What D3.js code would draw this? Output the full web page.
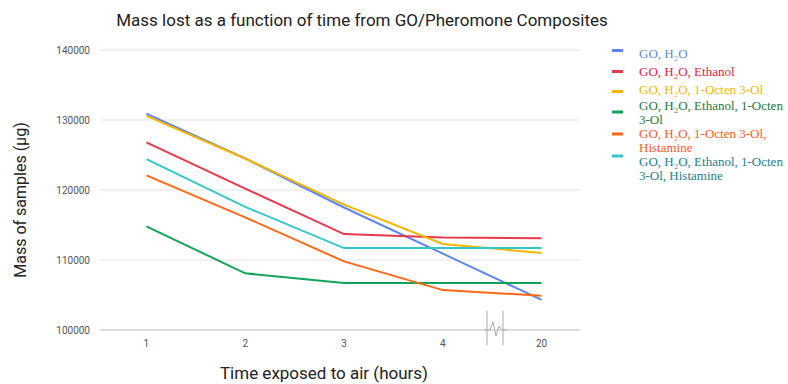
<!DOCTYPE html>
<html><head><meta charset="utf-8">
<script src="https://cdn.jsdelivr.net/npm/d3@7"></script>
<style>body{margin:0;background:#fff;}svg{display:block;}</style>
</head><body>
<svg id="c" width="788" height="384"></svg>
<script>
const categories = ["1", "2", "3", "4", "20"];
const yTicks = [100000, 110000, 120000, 130000, 140000];
const seriesNames = [
  ["GO, H\u2082O"],
  ["GO, H\u2082O, Ethanol"],
  ["GO, H\u2082O, 1-Octen 3-Ol"],
  ["GO, H\u2082O, Ethanol, 1-Octen", "3-Ol"],
  ["GO, H\u2082O, 1-Octen 3-Ol,", "Histamine"],
  ["GO, H\u2082O, Ethanol, 1-Octen", "3-Ol, Histamine"]
];
const goH2O = [130900, 124500, 117500, 110900, 104300];
const goH2OEthanol = [126800, 120200, 113700, 113200, 113100];
const goH2OOcten = [130600, 124500, 117900, 112300, 111000];
const goH2OEthanolOcten = [114800, 108100, 106700, 106700, 106700];
const goH2OOctenHist = [122100, 116100, 109800, 105700, 104900];
const goH2OEthanolOctenHist = [124400, 117600, 111700, 111700, 111700];
const seriesValues = [goH2O, goH2OEthanol, goH2OOcten, goH2OEthanolOcten, goH2OOctenHist, goH2OEthanolOctenHist];
const lineColors = ["#5a86ee", "#e8394c", "#f4b400", "#14a35a", "#ff6816", "#35c6cb"];
const textColors = ["#6487dc", "#e8203d", "#f2b600", "#1e7a3c", "#ff5a24", "#23808a"];

const svg = d3.select("#c");
const x = d3.scalePoint().domain(categories).range([97, 591]).padding(0.5);
const y = d3.scaleLinear().domain([100000, 140000]).range([330, 50]);

// gridlines
svg.append("g").selectAll("line").data(yTicks).join("line")
  .attr("x1", 100).attr("x2", 580)
  .attr("y1", d => y(d)).attr("y2", d => y(d))
  .attr("stroke", d => d === 100000 ? "#bdbdbd" : "#e3e3e3").attr("stroke-width", 1);

// y tick labels
svg.append("g").selectAll("text").data(yTicks).join("text")
  .attr("x", 90).attr("y", d => y(d)).attr("dy", "0.35em")
  .attr("text-anchor", "end").attr("font-family", "Roboto, sans-serif")
  .attr("font-size", 10).attr("fill", "#555").text(d => d);

// x tick labels
svg.append("g").selectAll("text").data(categories).join("text")
  .attr("x", d => x(d)).attr("y", 347)
  .attr("text-anchor", "middle").attr("font-family", "Roboto, sans-serif")
  .attr("font-size", 10).attr("fill", "#555").text(d => d);

// axis break symbol
const br = svg.append("g").attr("stroke", "#aaa").attr("fill", "none").attr("stroke-width", 1);
br.append("line").attr("x1", 487).attr("x2", 487).attr("y1", 311).attr("y2", 345);
br.append("line").attr("x1", 503).attr("x2", 503).attr("y1", 311).attr("y2", 345);
br.append("path").attr("d", "M484,330 L490,330 L493,322 L496,336 L499,326 L502,330 L507,330");

// lines
const line = d3.line().x((d, i) => x(categories[i])).y(d => y(d));
svg.append("g").selectAll("path").data(seriesValues).join("path")
  .attr("d", d => line(d)).attr("fill", "none")
  .attr("stroke", (d, i) => lineColors[i]).attr("stroke-width", 2);

// title
svg.append("text").attr("x", 362).attr("y", 26).attr("text-anchor", "middle")
  .attr("font-family", "Roboto, sans-serif").attr("font-size", 17).attr("fill", "#222")
  .text("Mass lost as a function of time from GO/Pheromone Composites");

// axis titles
svg.append("text").attr("x", 324).attr("y", 379).attr("text-anchor", "middle")
  .attr("font-family", "Roboto, sans-serif").attr("font-size", 17).attr("fill", "#222")
  .text("Time exposed to air (hours)");
svg.append("text").attr("transform", "translate(26,200) rotate(-90)").attr("text-anchor", "middle")
  .attr("font-family", "Roboto, sans-serif").attr("font-size", 16).attr("fill", "#222")
  .text("Mass of samples (\u00b5g)");

// legend
const markerY = [50.5, 71.5, 91.5, 112, 134, 156];
const textY = [[53], [71], [89], [105, 119], [133, 147], [161, 175]];
const lg = svg.append("g");
seriesNames.forEach((lines, i) => {
  lg.append("rect").attr("x", 612).attr("y", markerY[i] - 1.5).attr("width", 11).attr("height", 3)
    .attr("fill", lineColors[i]);
  lines.forEach((t, j) => {
    lg.append("text").attr("x", 639).attr("y", textY[i][j]).attr("dy", "0.35em")
      .attr("font-family", "'Liberation Serif', 'Times New Roman', serif").attr("font-size", 13)
      .attr("fill", textColors[i]).text(t);
  });
});
</script>
</body></html>
